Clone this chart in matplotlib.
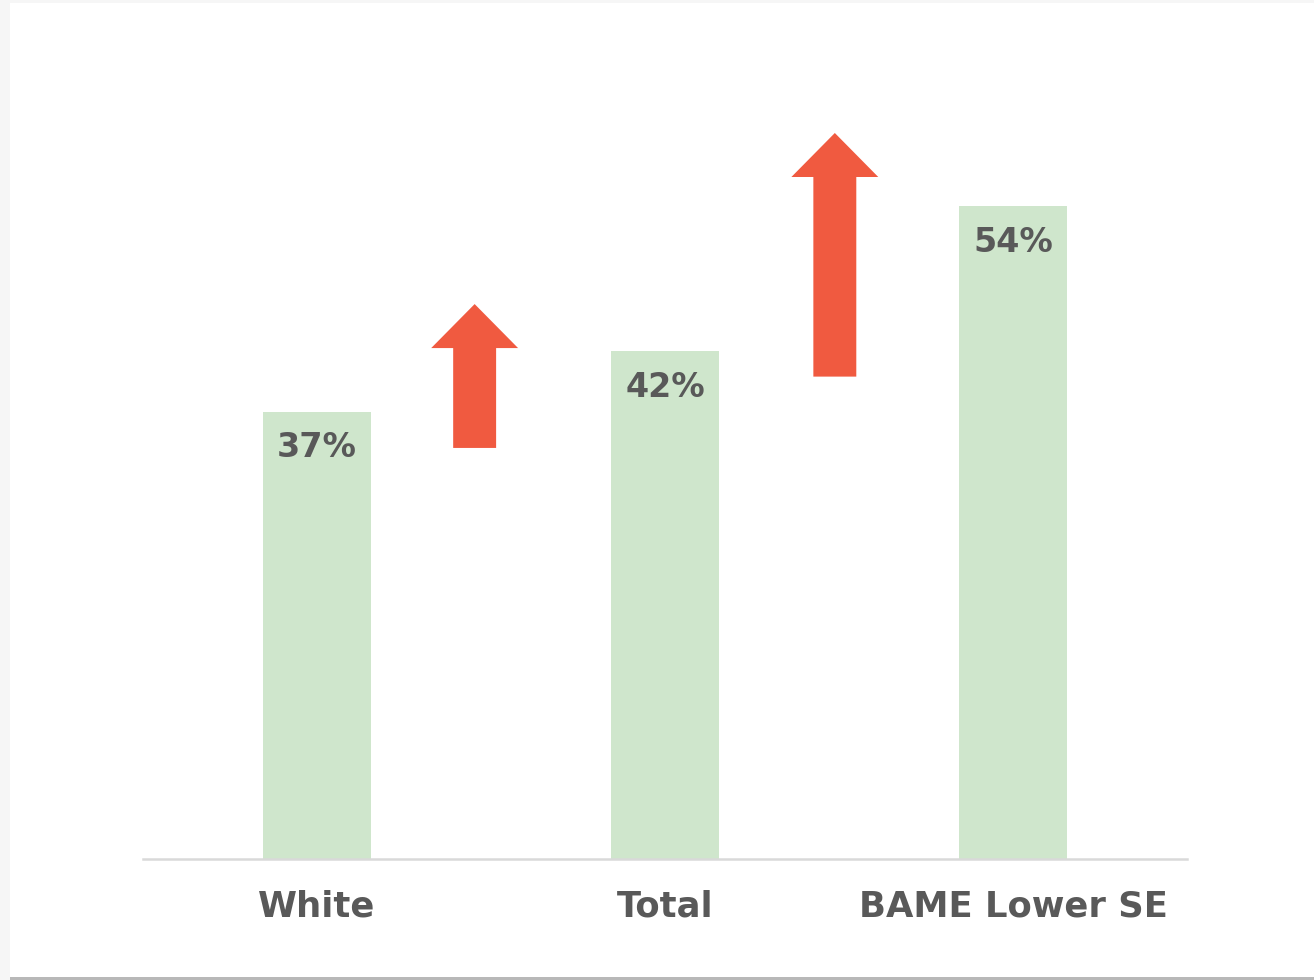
import matplotlib.pyplot as plt
from matplotlib.patches import Rectangle

# 各组比例（%）
categories = ["White", "Total", "BAME Lower SE"]
values = [37, 42, 54]

# 上升箭头：x位置、起点、终点（与柱子同一刻度）
arrow_x = [0.453, 1.488]
arrow_start = [34.0, 39.9]
arrow_end = [45.9, 60.05]

bar_color = "#cfe6cc"
arrow_color = "#f05a40"
text_color = "#595959"

fig = plt.figure(figsize=(13.14, 9.8), dpi=100)
fig.patch.set_facecolor("#f6f6f6")
# 白色底板和底部灰线
fig.patches.append(Rectangle((10 / 1314, 3 / 980), 1 - 10 / 1314, 1 - 6 / 980,
                             transform=fig.transFigure, facecolor="white",
                             edgecolor="none", zorder=-2))
fig.patches.append(Rectangle((10 / 1314, 0), 1 - 10 / 1314, 3 / 980,
                             transform=fig.transFigure, facecolor="#b8b8b8",
                             edgecolor="none", zorder=-2))

ax = fig.add_axes([143 / 1314, 121 / 980, 1044 / 1314, 750 / 980])
ax.set_facecolor("none")
ax.set_zorder(1)

x = list(range(len(categories)))
ax.bar(x, values, width=0.313, color=bar_color, zorder=2)

for xi, v in zip(x, values):
    ax.text(xi, v - 3.0, f"{v}%", ha="center", va="center",
            fontsize=24, fontweight="bold", color=text_color,
            family="DejaVu Sans")

for ax_x, y0, y1 in zip(arrow_x, arrow_start, arrow_end):
    ax.arrow(ax_x, y0, 0, y1 - y0, width=43 / 348.5, head_width=87 / 348.5,
             head_length=44 / 12.09, length_includes_head=True,
             color=arrow_color, linewidth=0, zorder=3)

ax.set_xlim(-0.5, 2.5)
ax.set_ylim(0, 750 / 12.09)
ax.set_xticks(x)
ax.set_xticklabels(categories, fontsize=25.5, fontweight="bold", color=text_color)
ax.tick_params(axis="x", length=0, pad=22)
ax.set_yticks([])
for s in ["top", "right", "left"]:
    ax.spines[s].set_visible(False)
ax.spines["bottom"].set_color("#d9d9d9")
ax.spines["bottom"].set_linewidth(1.8)

fig.savefig("out.png", dpi=100)
